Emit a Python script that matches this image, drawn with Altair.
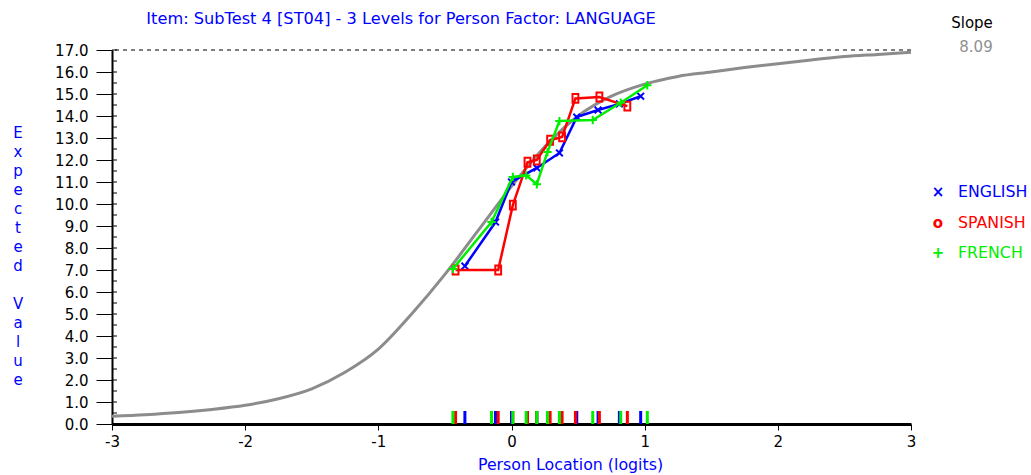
import altair as alt
import pandas as pd

# Expected-value curve of the item (model ICC)
curve_x = [-3.0, -2.75, -2.5, -2.25, -2.0, -1.75, -1.5, -1.25, -1.0, -0.75, -0.5,
           -0.25, 0.0, 0.25, 0.5, 0.75, 1.0, 1.25, 1.5, 1.75, 2.0, 2.25, 2.5, 2.75, 3.0]
curve_y = [0.35, 0.42, 0.52, 0.66, 0.85, 1.15, 1.6, 2.35, 3.4, 5.0, 6.8,
           8.8, 10.8, 12.6, 14.0, 14.9, 15.45, 15.8, 16.0, 16.2, 16.38, 16.55, 16.7, 16.8, 16.9]

# Observed class-interval means per language group
english_x = [-0.35, -0.12, 0.0, 0.19, 0.36, 0.49, 0.65, 0.81, 0.97]
english_y = [7.18, 9.18, 11.0, 11.64, 12.32, 13.95, 14.27, 14.55, 14.9]

spanish_x = [-0.42, -0.10, 0.01, 0.12, 0.19, 0.29, 0.38, 0.48, 0.66, 0.87]
spanish_y = [7.0, 7.0, 9.95, 11.9, 12.0, 12.9, 13.05, 14.8, 14.86, 14.45]

french_x = [-0.44, -0.15, 0.01, 0.11, 0.19, 0.27, 0.36, 0.61, 0.82, 1.02]
french_y = [7.05, 9.18, 11.23, 11.3, 10.9, 12.36, 13.77, 13.82, 14.6, 15.4]

groups = ["ENGLISH", "SPANISH", "FRENCH"]
group_colors = ["#0000ff", "#ff0000", "#00ee00"]
legend_symbols = ["×", "o", "+"]

slope_value = "8.09"
max_score = 17
title_text = "Item: SubTest 4 [ST04] - 3 Levels for Person Factor: LANGUAGE"
y_title_words = ["Expected", "Value"]
x_ticks = [-3, -2, -1, 0, 1, 2, 3]
y_ticks = list(range(0, 18))

W, H = 799, 374
FONT = "DejaVu Sans"

xs = alt.Scale(domain=[-3, 3], nice=False, zero=False)
ys = alt.Scale(domain=[0, 17], nice=False, zero=False)

x_axis = alt.Axis(values=x_ticks, labelExpr="datum.value + ''",
                  title="Person Location (logits)", titleColor="#0000ff",
                  titleFont=FONT, titleFontSize=15.8, titleFontWeight="normal",
                  titleX=458, titleY=33, domainWidth=3, tickSize=6,
                  labelPadding=4, labelFlush=False, labelOverlap=False,
                  labelFont=FONT, labelFontSize=15)
y_axis = alt.Axis(values=y_ticks, format=".1f", title=None,
                  domainWidth=2, tickSize=16, labelPadding=8, labelOverlap=False,
                  labelFlush=False, labelFont=FONT, labelFontSize=15)


# every layer carries the same axis spec so the merged axes stay identical
def X(field="x:Q"):
    return alt.X(field, scale=xs, axis=x_axis)


def Y(field="y:Q"):
    return alt.Y(field, scale=ys, axis=y_axis)


curve = alt.Chart(pd.DataFrame({"x": curve_x, "y": curve_y})).mark_line(
    color="#8c8c8c", strokeWidth=3, interpolate="monotone"
).encode(x=X(), y=Y())

top_rule = alt.Chart(pd.DataFrame({"y": [max_score]})).mark_rule(
    color="black", strokeDash=[4, 4], strokeWidth=1
).encode(y=Y())

# small inner ticks on the value axis every half unit
minor_df = pd.DataFrame({"y": [i / 2 for i in range(0, 2 * max_score + 1)]})
minor = alt.Chart(minor_df).mark_rule(color="black", strokeWidth=1).encode(
    y=Y(), x=alt.value(0), x2=alt.value(5))

shapes = {
    "ENGLISH": "M-1,-1L1,1M-1,1L1,-1",
    "SPANISH": "M-0.65,-1L0.65,-1L0.65,1L-0.65,1Z",
    "FRENCH": "M-1,0L1,0M0,-1L0,1",
}
sizes = {"ENGLISH": 45, "SPANISH": 80, "FRENCH": 70}

layers = [curve, top_rule, minor]
series = [(english_x, english_y), (spanish_x, spanish_y), (french_x, french_y)]
rugs = []
for name, color, (gx, gy) in zip(groups, group_colors, series):
    df = pd.DataFrame({"x": gx, "y": gy, "order": list(range(len(gx)))})
    base = alt.Chart(df)
    line = base.mark_line(color=color, strokeWidth=2.5).encode(
        x=X(), y=Y(), order="order:Q")
    pts = base.mark_point(shape=shapes[name], color=color, filled=False,
                          strokeWidth=2, size=sizes[name], opacity=1).encode(
        x=X(), y=Y())
    rug = base.mark_rule(color=color, strokeWidth=3).encode(
        x=X(), y=alt.value(H - 13), y2=alt.value(H))
    layers += [line, pts]
    rugs.append(rug)
layers += rugs

# Legend drawn as coloured text, one row per group
legend_rows_px = [142, 173, 203]
for name, color, sym, ypx in zip(groups, group_colors, legend_symbols, legend_rows_px):
    d = pd.DataFrame({"name": [name], "sym": [sym]})
    layers.append(alt.Chart(d).mark_text(
        font=FONT, fontSize=15, fontWeight="bold", color=color,
        align="center", baseline="middle").encode(
        x=alt.value(826), y=alt.value(ypx), text="sym:N"))
    layers.append(alt.Chart(d).mark_text(
        font=FONT, fontSize=15.8, color=color, align="left", baseline="middle").encode(
        x=alt.value(846), y=alt.value(ypx), text="name:N"))

title = alt.Chart(pd.DataFrame({"t": [title_text]})).mark_text(
    font=FONT, fontSize=16.2, color="#0000ff", align="center", baseline="alphabetic"
).encode(x=alt.value(289), y=alt.value(-26), text="t:N")

slope_lbl = alt.Chart(pd.DataFrame({"t": ["Slope"]})).mark_text(
    font=FONT, fontSize=15, color="black", align="center", baseline="middle"
).encode(x=alt.value(860), y=alt.value(-27), text="t:N")
slope_val = alt.Chart(pd.DataFrame({"t": [slope_value]})).mark_text(
    font=FONT, fontSize=15, color="#909090", align="center", baseline="middle"
).encode(x=alt.value(864), y=alt.value(-3), text="t:N")

layers += [title, slope_lbl, slope_val]

# vertical, letter-by-letter value-axis title (one text block per word)
line_h = 19
top_px = 76
for word in y_title_words:
    layers.append(alt.Chart(pd.DataFrame({"t": [0]})).mark_text(
        font=FONT, fontSize=15, color="#0000ff", align="center", baseline="top",
        lineHeight=line_h
    ).encode(x=alt.value(-94), y=alt.value(top_px), text=alt.value(list(word))))
    top_px += (len(word) + 1) * line_h

chart = alt.layer(*layers).properties(
    width=W, height=H,
    autosize=alt.AutoSizeParams(type="none"),
    padding={"left": 112, "top": 50, "right": 120, "bottom": 51},
).configure_view(stroke=None).configure_axis(
    grid=False, domainColor="black", tickColor="black", labelColor="black",
)

chart.save("out.html", embed_options={"renderer": "svg", "actions": False})
